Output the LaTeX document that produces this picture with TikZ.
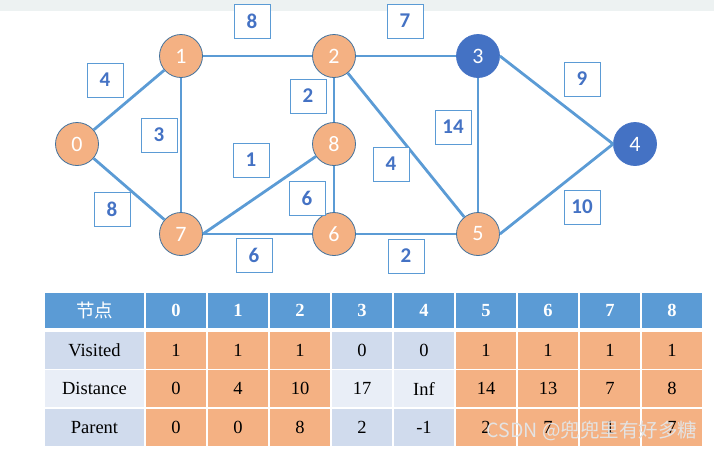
\documentclass[tikz,border=0pt]{standalone}
\usepackage{fontspec}
\setmainfont{Liberation Serif}
\newfontfamily\calibri{Carlito}
\newfontfamily\cjk{Noto Sans CJK SC}
\definecolor{edgeblue}{HTML}{5B9BD5}
\definecolor{darkblue}{HTML}{4472C4}
\definecolor{peach}{HTML}{F4B183}
\definecolor{rimblue}{HTML}{41719C}
\definecolor{rowdark}{HTML}{D0DBED}
\definecolor{rowlight}{HTML}{E9EEF7}
\definecolor{topband}{HTML}{EDF2F2}
\tikzset{
  seen/.style={circle, draw=rimblue, line width=0.8pt, fill=peach, minimum size=43pt,
    inner sep=0pt, text=white, font=\calibri\fontsize{22}{22}\selectfont},
  unseen/.style={seen, fill=darkblue, draw=darkblue},
  wbox/.style={draw=edgeblue, fill=white, line width=0.9pt, minimum width=36pt,
    minimum height=34pt, inner sep=0pt, text=darkblue,
    font=\calibri\bfseries\fontsize{21}{21}\selectfont},
  link/.style={edgeblue, line width=2.8pt},
  cell/.style={draw=white, line width=1.2pt, minimum width=62pt, minimum height=38.5pt,
    inner sep=0pt, font=\fontsize{18.5}{18.5}\selectfont},
  head/.style={cell, fill=edgeblue, minimum height=37pt, text=white}
}
\begin{document}
\begin{tikzpicture}[x=1pt,y=-1pt]
    \useasboundingbox (0,0) rectangle (714,451);
    \fill[topband] (0,0) rectangle (714,11);
    % vertices
    \node[seen] (n0) at (77,144) {0};
    \node[seen] (n1) at (181,56) {1};
    \node[seen] (n2) at (334,56) {2};
    \node[unseen] (n3) at (478,56) {3};
    \node[unseen] (n4) at (635,144) {4};
    \node[seen] (n5) at (478,234) {5};
    \node[seen] (n6) at (334,234) {6};
    \node[seen] (n7) at (181,234) {7};
    \node[seen] (n8) at (334,144) {8};
    % edges
    \draw[link] (n0) -- (n1);
    \draw[link] (n0) -- (n7);
    \draw[link] (n1) -- (n2);
    \draw[link] (n1) -- (n7);
    \draw[link] (n2) -- (n3);
    \draw[link] (n2) -- (n8);
    \draw[link] (n2) -- (n5);
    \draw[link] (n8) -- (n6);
    \draw[link] (n7.east) -- (n8);
    \draw[link] (n7) -- (n6);
    \draw[link] (n6) -- (n5);
    \draw[link] (n3) -- (n5);
    \draw[link] (n3.east) -- (n4.west);
    \draw[link] (n5.east) -- (n4.west);
    % weights
    \node[wbox] (w01) at (105,80) {4};
    \node[wbox] (w07) at (112,209) {8};
    \node[wbox] (w12) at (252,21) {8};
    \node[wbox] (w17) at (159,135) {3};
    \node[wbox] (w23) at (405,21) {7};
    \node[wbox] (w28) at (308,96) {2};
    \node[wbox] (w25) at (391,164) {4};
    \node[wbox] (w78) at (251,160) {1};
    \node[wbox] (w86) at (307,198) {6};
    \node[wbox] (w76) at (254,255) {6};
    \node[wbox] (w65) at (406,256) {2};
    \node[wbox] (w35) at (453,127) {14};
    \node[wbox] (w34) at (582,79) {9};
    \node[wbox] (w54) at (582,207) {10};
    % table
    \node[head, minimum width=101pt] (h) at (94.5,310.5) {\cjk 节点};
    \foreach \k in {0,...,8}
      \node[head] (h\k) at (176+62*\k,310.5) {\bfseries\k};
    \foreach \r/\lab/\shade/\vals in {0/Visited/rowdark/{1,1,1,0,0,1,1,1,1},
        1/Distance/rowlight/{0,4,10,17,Inf,14,13,7,8},
        2/Parent/rowdark/{0,0,8,2,-1,2,7,1,7}} {
      \node[cell, fill=\shade, minimum width=101pt] (r\r) at (94.5,350.25+38.5*\r) {\lab};
      \foreach \v [count=\k from 0] in \vals {
        \def\tint{peach}
        \ifnum\k>2 \ifnum\k<5 \def\tint{\shade}\fi\fi
        \node[cell, fill=\tint] (c\r\k) at (176+62*\k,350.25+38.5*\r) {\v};
      }
    }
    \node[font=\cjk\fontsize{19.5}{19.5}\selectfont, text=white!78!gray] (mark) at (592,431)
      {CSDN @兜兜里有好多糖};
\end{tikzpicture}
\end{document}
